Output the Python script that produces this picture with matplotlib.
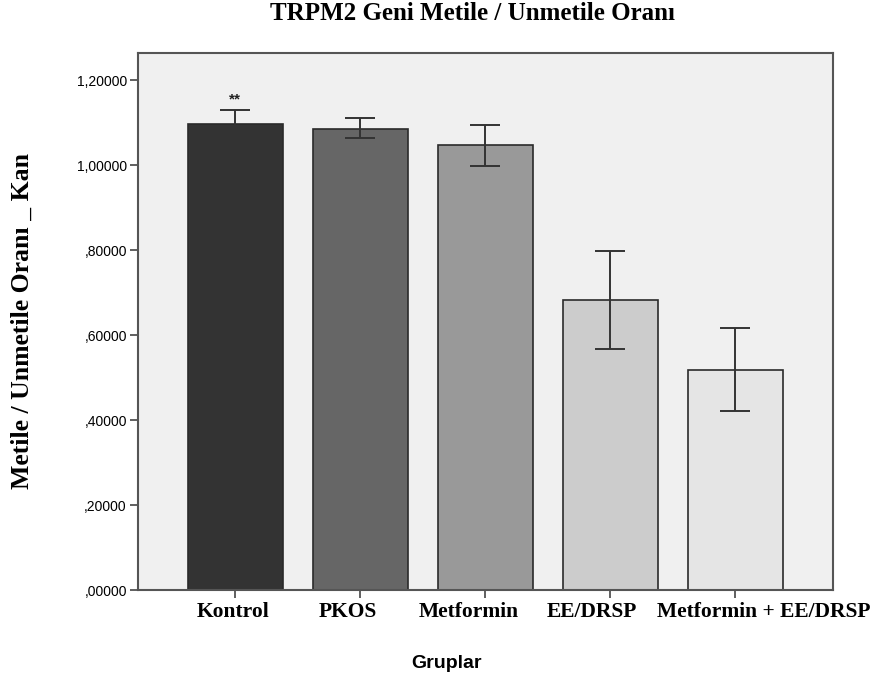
import matplotlib
matplotlib.use("Agg")
import matplotlib.pyplot as plt
from matplotlib.transforms import blended_transform_factory

categories = ["Kontrol", "PKOS", "Metformin", "EE/DRSP", "Metformin + EE/DRSP"]
means = [1.098, 1.086, 1.047, 0.683, 0.518]
err_low = [0.034, 0.023, 0.049, 0.116, 0.097]
err_high = [0.032, 0.024, 0.048, 0.116, 0.098]
colors = ["#333333", "#666666", "#999999", "#cccccc", "#e5e5e5"]
yticks = [0.0, 0.2, 0.4, 0.6, 0.8, 1.0, 1.2]
ytick_labels = [",00000", ",20000", ",40000", ",60000", ",80000", "1,00000", "1,20000"]
label_shift = [-0.016, -0.096, -0.128, -0.144, 0.232]

fig = plt.figure(figsize=(8.74, 6.8), dpi=100)
ax = fig.add_axes([138/874, 90/680, (833-138)/874, (590-53)/680])
ax.set_facecolor("#f0f0f0")

x = list(range(len(categories)))
ax.bar(x, means, width=0.76, color=colors, edgecolor="#2a2a2a", linewidth=1.2, zorder=2)
ax.errorbar(x, means, yerr=[err_low, err_high], fmt="none", ecolor="#333333",
            elinewidth=1.4, capsize=11, capthick=1.4, zorder=3)
ax.text(0, means[0] + err_high[0] + 0.008, "**", ha="center", va="bottom",
        fontsize=11, color="#222222", family="Liberation Sans", fontweight="bold")

ax.set_xlim(-0.776, 4.784)
ax.set_ylim(0, 1.264)
ax.set_yticks(yticks)
ax.set_yticklabels(ytick_labels, family="Liberation Sans", fontsize=10)
ax.set_xticks(x)
ax.set_xticklabels([""] * len(categories))
trans = blended_transform_factory(ax.transData, fig.transFigure)
for xi, lab, sh in zip(x, categories, label_shift):
    ax.text(xi + sh, 1 - 612/680, lab, transform=trans, ha="center", va="center",
            family="Liberation Serif", fontweight="bold", fontsize=15.5)
ax.tick_params(axis="both", direction="out", length=6, width=1.2, color="#444444")
ax.tick_params(axis="y", pad=2)
for s in ax.spines.values():
    s.set_color("#555555")
    s.set_linewidth(1.5)

fig.text(473/874, 1 - 14/680, "TRPM2 Geni Metile / Unmetile Oranı", ha="center", va="center",
         family="Liberation Serif", fontweight="bold", fontsize=18)
fig.text(22/874, 1 - 321/680, "Metile / Unmetile Oranı _ Kan", ha="center", va="center",
         rotation=90, family="Liberation Serif", fontweight="bold", fontsize=18.5)
fig.text(447/874, 1 - 663/680, "Gruplar", ha="center", va="center",
         family="Liberation Sans", fontweight="bold", fontsize=14)

fig.savefig("out.png", dpi=100, facecolor="white")
